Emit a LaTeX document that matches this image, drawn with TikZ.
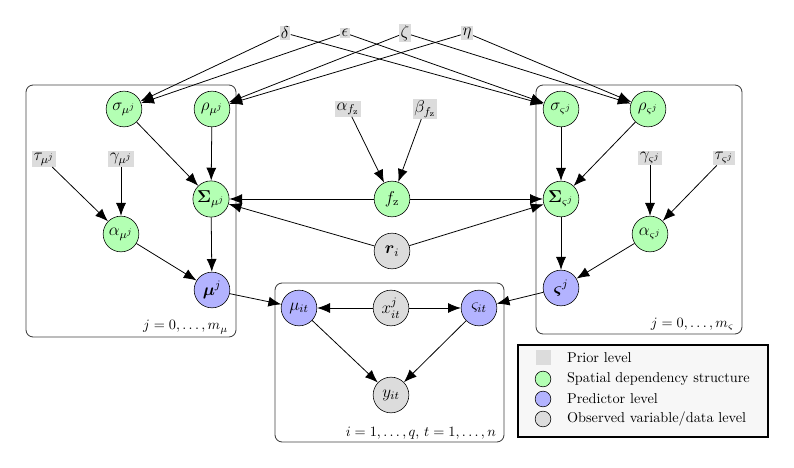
\documentclass[tikz,border=0pt]{standalone}
\usepackage{amsmath}
\usepackage{amssymb}
\usetikzlibrary{arrows.meta}

\definecolor{spatialgreen}{HTML}{B3FFB3}
\definecolor{predblue}{HTML}{B3B3FF}
\definecolor{obsgray}{HTML}{DCDCDC}
\definecolor{priorgray}{HTML}{DCDCDC}
\definecolor{legendbg}{HTML}{F7F7F7}

\begin{document}
\begin{tikzpicture}[x=0.7pt, y=-0.7pt,
        var/.style={circle, draw, minimum size=25pt, inner sep=1pt, font=\large},
        spatial/.style={var, fill=spatialgreen},
        predictor/.style={var, fill=predblue},
        observed/.style={var, fill=obsgray},
        prior/.style={fill=priorgray, inner sep=1pt, font=\large},
        plate/.style={draw=black!75, rounded corners=5pt, line width=0.6pt},
        edge/.style={-{Latex[length=9pt,width=7pt]}, line width=0.55pt}]
        \useasboundingbox (0,0) rectangle (794,468);
        % plates
        \draw[plate] (26,85) rectangle (236,337);
        \draw[plate] (536,85) rectangle (742,334);
        \draw[plate] (275,283) rectangle (504,442);
        \node[anchor=south east] (plateMu) at (233,339){$j=0,\dots,m_\mu$};
        \node[anchor=south east] (plateVs) at (739,336){$j=0,\dots,m_\varsigma$};
        \node[anchor=south east] (plateObs) at (501,444){$i=1,\dots,q,\,t=1,\dots,n$};
        % hyperpriors
        \node[prior] (delta) at (285,33){$\delta$};
        \node[prior] (epsilon) at (345,33){$\epsilon$};
        \node[prior] (zeta) at (405,33){$\zeta$};
        \node[prior] (eta) at (467,33){$\eta$};
        \node[prior] (tauMu) at (44,159){$\tau_{\mu^j}$};
        \node[prior] (gammaMu) at (121,159){$\gamma_{\mu^j}$};
        \node[prior] (alphaFz) at (348,109){$\alpha_{f_{\mathrm{z}}}$};
        \node[prior] (betaFz) at (425,109){$\beta_{f_{\mathrm{z}}}$};
        \node[prior] (gammaVs) at (650,158){$\gamma_{\varsigma^j}$};
        \node[prior] (tauVs) at (724,158){$\tau_{\varsigma^j}$};
        % spatial dependency structure
        \node[spatial] (sigmaMu) at (124,109){$\sigma_{\mu^j}$};
        \node[spatial] (rhoMu) at (212,109){$\rho_{\mu^j}$};
        \node[spatial] (SigmaMu) at (211,199){$\boldsymbol{\Sigma}_{\mu^j}$};
        \node[spatial] (alphaMu) at (121,234){$\alpha_{\mu^j}$};
        \node[spatial] (fz) at (392,199){$f_{\mathrm{z}}$};
        \node[spatial] (sigmaVs) at (561,109){$\sigma_{\varsigma^j}$};
        \node[spatial] (rhoVs) at (648,109){$\rho_{\varsigma^j}$};
        \node[spatial] (SigmaVs) at (561,199){$\boldsymbol{\Sigma}_{\varsigma^j}$};
        \node[spatial] (alphaVs) at (650,234){$\alpha_{\varsigma^j}$};
        % predictors and data
        \node[predictor] (muJ) at (212,290){$\boldsymbol{\mu}^j$};
        \node[predictor] (vsJ) at (561,288){$\boldsymbol{\varsigma}^j$};
        \node[predictor] (muIt) at (299,308){$\mu_{it}$};
        \node[predictor] (vsIt) at (479,308){$\varsigma_{it}$};
        \node[observed] (ri) at (392,251){$\boldsymbol{r}_i$};
        \node[observed] (xIt) at (391,308){$x_{it}^j$};
        \node[observed] (yIt) at (391,395){$y_{it}$};
        % edges
        \draw[edge] (delta) -- (sigmaMu);
        \draw[edge] (epsilon) -- (sigmaMu);
        \draw[edge] (delta) -- (sigmaVs);
        \draw[edge] (epsilon) -- (sigmaVs);
        \draw[edge] (zeta) -- (rhoMu);
        \draw[edge] (eta) -- (rhoMu);
        \draw[edge] (zeta) -- (rhoVs);
        \draw[edge] (eta) -- (rhoVs);
        \draw[edge] (sigmaMu) -- (SigmaMu);
        \draw[edge] (rhoMu) -- (SigmaMu);
        \draw[edge] (tauMu) -- (alphaMu);
        \draw[edge] (gammaMu) -- (alphaMu);
        \draw[edge] (alphaMu) -- (muJ);
        \draw[edge] (SigmaMu) -- (muJ);
        \draw[edge] (alphaFz) -- (fz);
        \draw[edge] (betaFz) -- (fz);
        \draw[edge] (fz) -- (SigmaMu);
        \draw[edge] (fz) -- (SigmaVs);
        \draw[edge] (ri) -- (SigmaMu);
        \draw[edge] (ri) -- (SigmaVs);
        \draw[edge] (sigmaVs) -- (SigmaVs);
        \draw[edge] (rhoVs) -- (SigmaVs);
        \draw[edge] (gammaVs) -- (alphaVs);
        \draw[edge] (tauVs) -- (alphaVs);
        \draw[edge] (alphaVs) -- (vsJ);
        \draw[edge] (SigmaVs) -- (vsJ);
        \draw[edge] (muJ) -- (muIt);
        \draw[edge] (vsJ) -- (vsIt);
        \draw[edge] (xIt) -- (muIt);
        \draw[edge] (xIt) -- (vsIt);
        \draw[edge] (muIt) -- (yIt);
        \draw[edge] (vsIt) -- (yIt);
        % legend
        \draw[fill=legendbg, line width=1.2pt] (518,345) rectangle (768,437);
        \node[fill=priorgray, minimum size=10.5pt, inner sep=0pt] (legPrior) at (543,358){};
        \node[circle, draw, fill=spatialgreen, minimum size=11pt, inner sep=0pt] (legSpatial) at (543,379){};
        \node[circle, draw, fill=predblue, minimum size=11pt, inner sep=0pt] (legPred) at (543,399){};
        \node[circle, draw, fill=obsgray, minimum size=11pt, inner sep=0pt] (legObs) at (543,419){};
        \node[right] (txtPrior) at (562,358){Prior level};
        \node[right] (txtSpatial) at (562,379){Spatial dependency structure};
        \node[right] (txtPred) at (562,399){Predictor level};
        \node[right] (txtObs) at (562,419){Observed variable/data level};
    \end{tikzpicture}
\end{document}
